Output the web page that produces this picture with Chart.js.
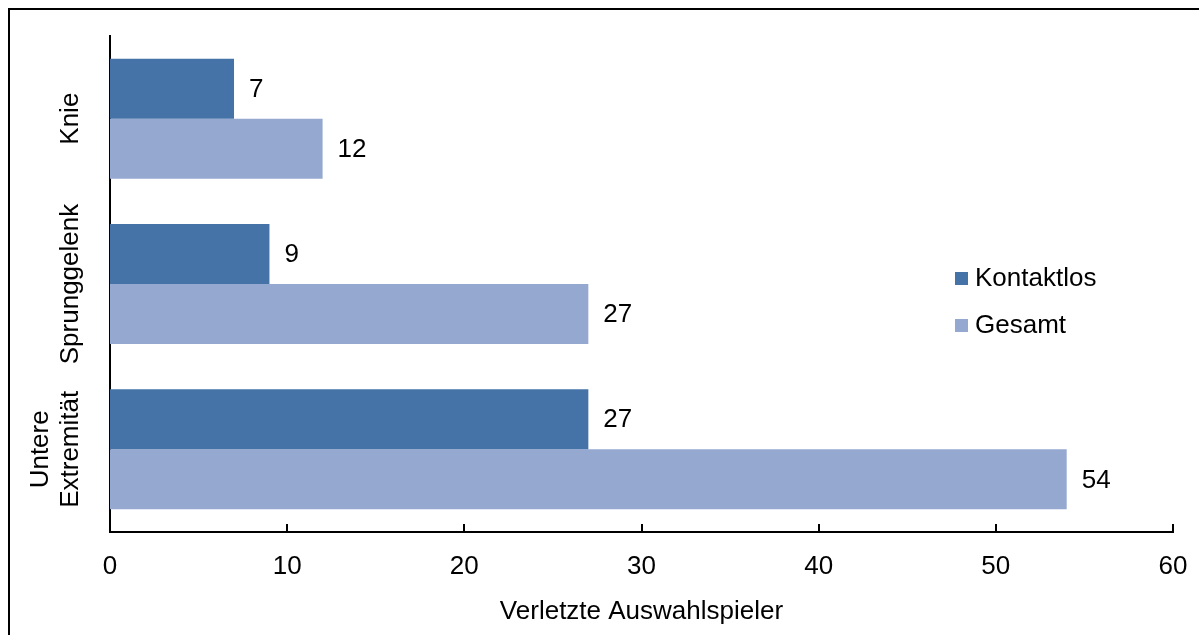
<!DOCTYPE html>
<html>
<head>
<meta charset="utf-8">
<script src="https://cdn.jsdelivr.net/npm/chart.js@4/dist/chart.umd.min.js"></script>
<style>
  html, body { margin: 0; padding: 0; background: #fff; overflow: hidden; }
  #frame { position: absolute; left: 8px; top: 8px; width: 1300px; height: 700px; border: 2px solid #000; }
  #wrap { position: absolute; left: 0; top: 0; width: 1199px; height: 635px; }
</style>
</head>
<body>
<div id="frame"></div>
<div id="wrap"><canvas id="myChart"></canvas></div>
<script>
/* Verletzungen der unteren Extremität */
const categories = ['Knie', 'Sprunggelenk', ['Untere', 'Extremität']];
const kontaktlos = [7, 9, 27];
const gesamt = [12, 27, 54];
const seriesNames = ['Kontaktlos', 'Gesamt'];
const xTitle = 'Verletzte Auswahlspieler';

const FONT = '"Liberation Sans", Arial, sans-serif';
Chart.defaults.font.family = FONT;
Chart.defaults.font.size = 26;
Chart.defaults.color = '#000';

// Werte neben den Balken, Kategorienamen, Legende und Teilstriche nach oben
const extras = {
  id: 'extras',
  afterDraw(chart) {
    const ctx = chart.ctx;
    const x = chart.scales.x;
    const y = chart.scales.y;
    ctx.save();
    ctx.font = '26px ' + FONT;
    ctx.fillStyle = '#000';

    // Werte
    ctx.textAlign = 'left';
    ctx.textBaseline = 'middle';
    chart.data.datasets.forEach((ds, i) => {
      chart.getDatasetMeta(i).data.forEach((bar, j) => {
        ctx.fillText(String(ds.data[j]), bar.x + 15, bar.y + 1);
      });
    });

    // Teilstriche
    ctx.strokeStyle = '#000';
    ctx.lineWidth = 2;
    x.ticks.forEach(t => {
      const px = Math.round(x.getPixelForValue(t.value));
      ctx.beginPath();
      ctx.moveTo(px, x.top);
      ctx.lineTo(px, x.top - 8);
      ctx.stroke();
    });

    // Kategorienamen, senkrecht
    ctx.textAlign = 'center';
    ctx.textBaseline = 'middle';
    chart.data.labels.forEach((lab, i) => {
      const lines = Array.isArray(lab) ? lab : [lab];
      const py = y.getPixelForValue(i);
      lines.forEach((line, k) => {
        const px = 71 - (lines.length - 1 - k) * 30;
        ctx.save();
        ctx.translate(px, py);
        ctx.rotate(-Math.PI / 2);
        ctx.fillText(line, 0, 0);
        ctx.restore();
      });
    });

    // Legende
    const lx = 955, ly = [278, 325];
    ctx.textAlign = 'left';
    chart.data.datasets.forEach((ds, i) => {
      ctx.fillStyle = ds.backgroundColor;
      ctx.fillRect(lx, ly[i] - 6, 13, 13);
      ctx.fillStyle = '#000';
      ctx.fillText(ds.label, lx + 20, ly[i] + 1);
    });
    ctx.restore();
  }
};

const data = {
  labels: categories,
  datasets: [{
    label: seriesNames[0],
    data: kontaktlos,
    backgroundColor: '#4573A7'
  }, {
    label: seriesNames[1],
    data: gesamt,
    backgroundColor: '#95A9D0'
  }]
};

const config = {
  type: 'bar',
  data: data,
  options: {
    indexAxis: 'y',
    responsive: true,
    maintainAspectRatio: false,
    animation: false,
    categoryPercentage: 0.726,
    barPercentage: 1,
    layout: {
      padding: { top: 36, right: 26, bottom: 0, left: 0 }
    },
    plugins: {
      legend: { display: false },
      tooltip: { enabled: false }
    },
    scales: {
      x: {
        min: 0,
        max: 60,
        ticks: { stepSize: 10, padding: 19 },
        grid: { display: false, drawTicks: false },
        border: { display: true, color: '#000', width: 2 },
        title: { display: true, text: xTitle, padding: { top: 0, bottom: 8 } },
        afterFit(scale) {
          scale.height = 103;
          scale.paddingLeft = 0;
          scale.paddingRight = 0;
        }
      },
      y: {
        ticks: { display: false },
        grid: { display: false, drawTicks: false },
        border: { display: true, color: '#000', width: 2 },
        afterFit(scale) { scale.width = 110; }
      }
    }
  },
  plugins: [extras]
};

const myChart = new Chart(document.getElementById('myChart'), config);
</script>
</body>
</html>
